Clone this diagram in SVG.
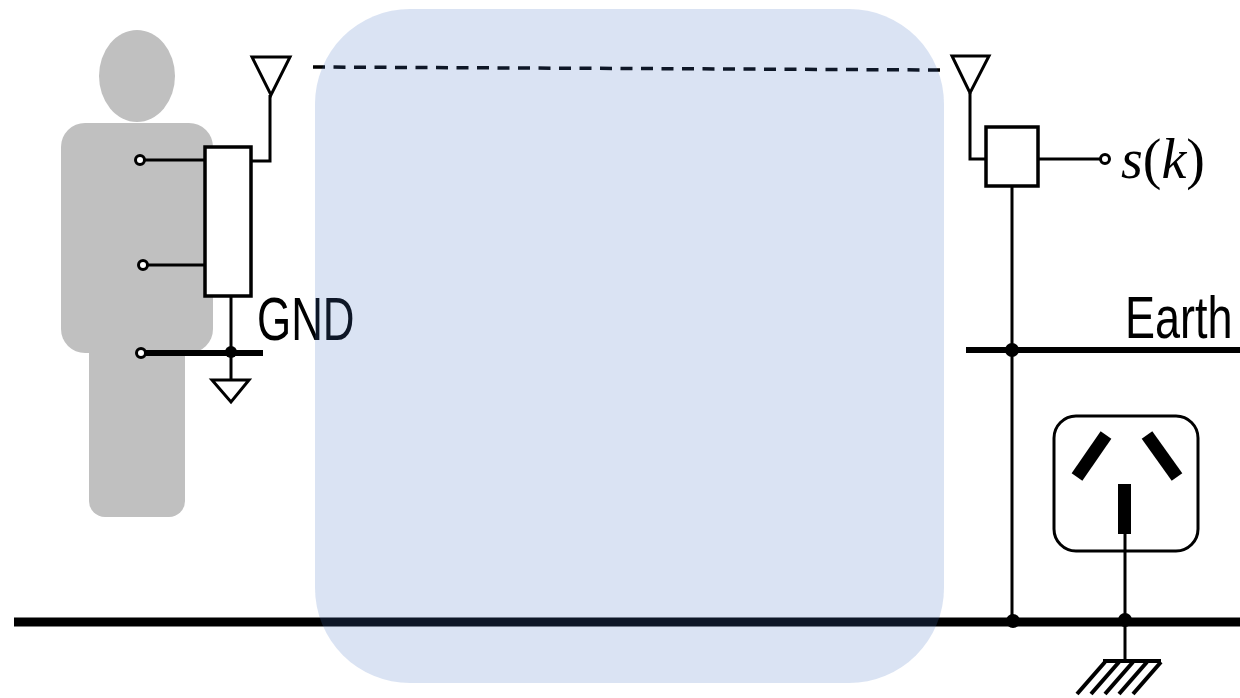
<svg xmlns="http://www.w3.org/2000/svg" width="1240" height="698" viewBox="0 0 1240 698">
  <style>
    .wire { stroke: #000; stroke-width: 3; fill: none; }
    .bus { stroke: #000; stroke-width: 6; fill: none; }
    .box { stroke: #000; stroke-width: 3.5; fill: #fff; }
    .term { stroke: #000; stroke-width: 3; fill: #fff; }
    .dot { fill: #000; }
    .body { fill: #c0c0c0; }
    .lbl { font-family: "Liberation Sans", Arial, sans-serif; fill: #000; }
    .math { font-family: "Liberation Serif", "Times New Roman", serif; fill: #000; }
    .var { font-style: italic; }
  </style>

  <!-- person silhouette -->
  <g id="person">
    <ellipse class="body" cx="137" cy="76" rx="38" ry="46"/>
    <rect class="body" x="61" y="123" width="152" height="230" rx="24"/>
    <rect class="body" x="89" y="300" width="96" height="217" rx="16"/>
  </g>

  <!-- wearable transmitter -->
  <g id="transmitter">
    <rect class="box" x="205" y="147" width="46" height="149"/>
    <polygon class="wire" points="252,57 290,57 271,95"/>
  </g>

  <!-- receiver -->
  <g id="receiver">
    <rect class="box" x="986" y="127" width="52" height="59"/>
    <polygon class="wire" points="952,56 989,56 970,93"/>
    <text class="math" x="1121" y="178" font-size="56"><tspan class="var">s</tspan>(<tspan class="var">k</tspan>)</text>
  </g>

  <!-- wall outlet -->
  <g id="outlet">
    <rect x="1054" y="416" width="144" height="135" rx="22" fill="#fff" stroke="#000" stroke-width="3"/>
    <line x1="1106" y1="435" x2="1077" y2="477" stroke="#000" stroke-width="13"/>
    <line x1="1147" y1="435" x2="1177" y2="477" stroke="#000" stroke-width="13"/>
    <rect x="1118" y="484" width="13" height="50" fill="#000"/>
  </g>

  <!-- labels -->
  <g id="labels">
    <text class="lbl" font-size="61" transform="translate(257,340) scale(0.72,1)">GND</text>
    <text class="lbl" font-size="60" transform="translate(1125,338) scale(0.75,1)">Earth</text>
  </g>

  <!-- connectors -->
  <g id="connectors">
    <!-- electrodes to transmitter -->
    <line class="wire" x1="145" y1="160" x2="205" y2="160"/>
    <line class="wire" x1="148" y1="265" x2="205" y2="265"/>
    <line class="bus" x1="146" y1="353" x2="263" y2="353"/>
    <circle class="term" cx="140" cy="160" r="4.5"/>
    <circle class="term" cx="143" cy="265" r="4.5"/>
    <circle class="term" cx="141" cy="353" r="4.5"/>
    <!-- transmitter ground -->
    <line class="wire" x1="231" y1="296" x2="231" y2="380"/>
    <circle class="dot" cx="231" cy="352" r="6"/>
    <polygon class="wire" points="212,380 249,380 231,402"/>
    <!-- transmitter antenna feed -->
    <polyline class="wire" points="251,161 270,161 270,95"/>
    <!-- wireless link -->
    <line x1="313" y1="67" x2="945" y2="70" stroke="#000" stroke-width="3.5" stroke-dasharray="12 8.5"/>
    <!-- receiver antenna feed and output -->
    <polyline class="wire" points="986,159 970,159 970,93"/>
    <line class="wire" x1="1038" y1="159" x2="1100" y2="159"/>
    <circle class="term" cx="1105" cy="159" r="4.5"/>
    <line class="wire" x1="1012" y1="186" x2="1012" y2="622"/>
    <!-- earth bus -->
    <line class="bus" x1="966" y1="350" x2="1240" y2="350"/>
    <circle class="dot" cx="1012" cy="350" r="7"/>
    <!-- common ground rail -->
    <line x1="14" y1="622" x2="1240" y2="622" stroke="#000" stroke-width="9"/>
    <circle class="dot" cx="1013" cy="621" r="7"/>
    <circle class="dot" cx="1125" cy="620" r="7"/>
    <!-- outlet earth pin to protective earth -->
    <line class="wire" x1="1125" y1="534" x2="1125" y2="661"/>
    <line x1="1103" y1="661" x2="1161" y2="661" stroke="#000" stroke-width="4"/>
    <g stroke="#000" stroke-width="4">
      <line x1="1105" y1="662" x2="1077" y2="694"/>
      <line x1="1119" y1="662" x2="1091" y2="694"/>
      <line x1="1133" y1="662" x2="1105" y2="694"/>
      <line x1="1147" y1="662" x2="1119" y2="694"/>
      <line x1="1161" y1="662" x2="1133" y2="694"/>
    </g>
  </g>

  <!-- shared room / propagation area -->
  <rect id="channel" x="315" y="9" width="629" height="674" rx="95" fill="#4472c4" fill-opacity="0.2"/>
</svg>
